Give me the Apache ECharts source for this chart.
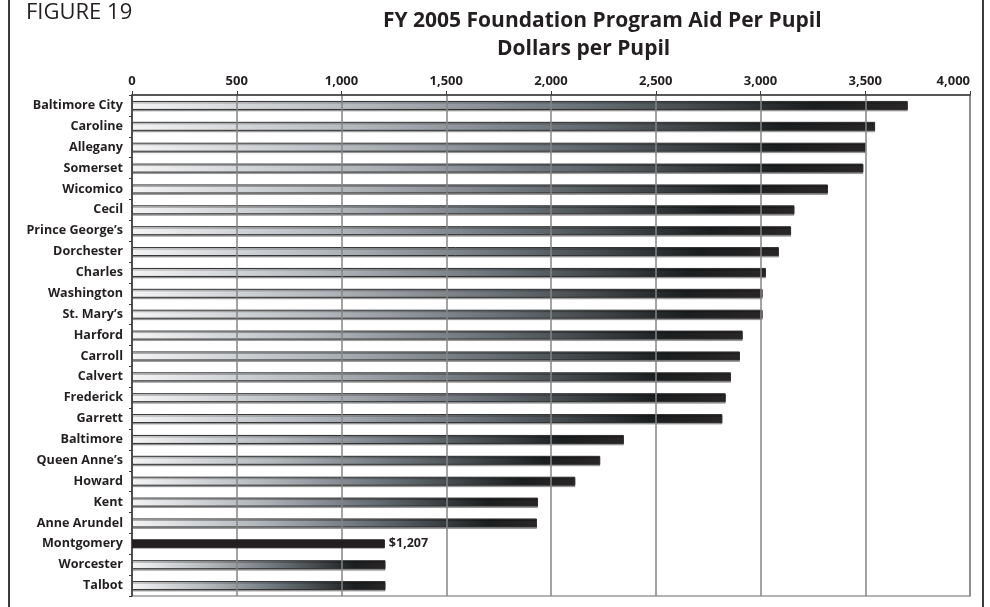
<!DOCTYPE html>
<html>
<head>
<meta charset="utf-8">
<style>
  html, body { margin: 0; padding: 0; background: #ffffff; }
  #chart { width: 990px; height: 607px; }
</style>
<script src="https://cdn.jsdelivr.net/npm/echarts@6/dist/echarts.min.js"></script>
</head>
<body>
<div id="chart"></div>
<script>
// Counties, ordered top to bottom
const counties = [
  'Baltimore City', 'Caroline', 'Allegany', 'Somerset', 'Wicomico', 'Cecil',
  "Prince George\u2019s", 'Dorchester', 'Charles', 'Washington', "St. Mary\u2019s",
  'Harford', 'Carroll', 'Calvert', 'Frederick', 'Garrett', 'Baltimore',
  "Queen Anne\u2019s", 'Howard', 'Kent', 'Anne Arundel', 'Montgomery',
  'Worcester', 'Talbot'
];

// FY 2005 foundation program aid, dollars per pupil
const aidPerPupil = [
  3703, 3547, 3502, 3491, 3322, 3162,
  3146, 3088, 3026, 3010, 3010,
  2915, 2902, 2859, 2834, 2818, 2348,
  2235, 2116, 1938, 1933, 1207,
  1210, 1210
];

// County called out with a solid bar and a value label
const highlighted = 'Montgomery';

// Axis ticks
const axisMin = 0;
const axisMax = 4000;
const axisStep = 500;

const FONT = '"Open Sans", "Noto Sans", sans-serif';
const INK = '#231f20';

const barGradient = {
  type: 'linear', x: 0, y: 0, x2: 1, y2: 0,
  colorStops: [
    { offset: 0.00, color: '#f4f4f5' },
    { offset: 0.30, color: '#b3b8bd' },
    { offset: 0.60, color: '#646c71' },
    { offset: 0.88, color: '#1b1e1f' },
    { offset: 1.00, color: '#2a2627' }
  ]
};

// Regular counties get the shaded bars; the highlighted county is drawn
// as its own solid bar in the same slot, above the grid lines.
const regularData = counties.map((name, i) => (name === highlighted ? '-' : aidPerPupil[i]));
const highlightData = counties.map((name, i) => (name === highlighted ? aidPerPupil[i] : '-'));

const chart = echarts.init(document.getElementById('chart'), null, { renderer: 'canvas' });

chart.setOption({
  animation: false,
  backgroundColor: '#ffffff',
  title: [
    {
      text: 'FIGURE 19', left: 26, top: 2, padding: 0,
      textStyle: { fontFamily: FONT, fontWeight: 'normal', fontSize: 22, color: INK }
    },
    {
      text: 'FY 2005 Foundation Program Aid Per Pupil', left: 383, top: 11, padding: 0,
      textStyle: { fontFamily: FONT, fontWeight: 'bold', fontSize: 21, color: INK }
    },
    {
      text: 'Dollars per Pupil', left: 497, top: 39, padding: 0,
      textStyle: { fontFamily: FONT, fontWeight: 'bold', fontSize: 21, color: INK }
    }
  ],
  grid: {
    left: 132, right: 20, top: 95, bottom: 11,
    show: true, borderColor: '#9a9a9a', borderWidth: 1.5, backgroundColor: 'transparent'
  },
  xAxis: {
    type: 'value',
    position: 'top',
    min: axisMin, max: axisMax, interval: axisStep,
    z: 5,
    axisLine: { show: true, lineStyle: { color: '#3a3a3a', width: 1.5 } },
    axisTick: { show: true, length: 4, lineStyle: { color: '#3a3a3a', width: 1 } },
    axisLabel: {
      margin: 7,
      alignMaxLabel: 'right',
      fontFamily: FONT, fontWeight: 'bold', fontSize: 13, color: INK,
      formatter: v => v.toLocaleString('en-US')
    },
    splitLine: { show: true, lineStyle: { color: '#858585', width: 1.5 } }
  },
  yAxis: {
    type: 'category',
    data: counties,
    inverse: true,
    z: 5,
    axisLine: { show: true, lineStyle: { color: '#3a3a3a', width: 1.5 } },
    axisTick: { show: true, length: 3, interval: 0, lineStyle: { color: '#3a3a3a', width: 1 } },
    axisLabel: {
      margin: 9, interval: 0,
      fontFamily: FONT, fontWeight: 'bold', fontSize: 12.6, color: INK
    },
    splitLine: { show: false }
  },
  series: [
    {
      type: 'bar',
      data: regularData,
      barWidth: 9,
      barGap: '-100%',
      z: 2,
      itemStyle: {
        color: barGradient,
        borderColor: '#2e2e2e',
        borderWidth: 1,
        shadowColor: 'rgba(0,0,0,0.3)',
        shadowOffsetY: 1.5,
        shadowBlur: 0
      }
    },
    {
      type: 'bar',
      data: highlightData,
      barWidth: 9,
      barGap: '-100%',
      z: 6,
      itemStyle: { color: INK, borderColor: INK, borderWidth: 1 },
      label: {
        show: true,
        position: 'right',
        distance: 4,
        formatter: p => '$' + p.value.toLocaleString('en-US'),
        fontFamily: FONT, fontWeight: 'bold', fontSize: 12.5, color: INK
      }
    }
  ],
  graphic: [
    { type: 'line', shape: { x1: 9, y1: 0, x2: 9, y2: 607 }, style: { stroke: '#3c3c3c', lineWidth: 2 } },
    { type: 'line', shape: { x1: 983, y1: 0, x2: 983, y2: 607 }, style: { stroke: '#3c3c3c', lineWidth: 2 } }
  ]
});
</script>
</body>
</html>
